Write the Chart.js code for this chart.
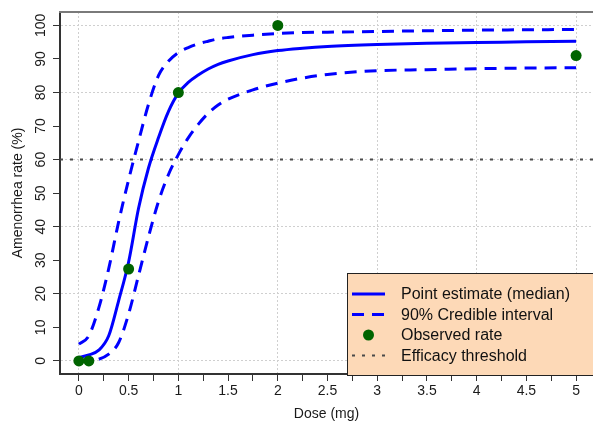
<!DOCTYPE html>
<html>
<head>
<meta charset="utf-8">
<script src="https://cdn.jsdelivr.net/npm/chart.js@4"></script>
<style>
  html, body { margin: 0; padding: 0; background: #ffffff; }
  #wrap { width: 593px; height: 423px; position: relative; }
</style>
</head>
<body>
<div id="wrap"><canvas id="c"></canvas></div>
<script>
// ---- data ----
const DOSE = [0, 0.1, 0.2, 0.3, 0.4, 0.5, 0.6, 0.7, 0.8, 0.9, 1.0, 1.1, 1.2, 1.3, 1.4, 1.5, 1.75, 2.0, 2.25, 2.5, 3.0, 3.5, 4.0, 4.5, 5.0];
const MEDIAN = [1.0, 1.8, 3.2, 7.5, 18.0, 29.5, 45.5, 57.5, 66.5, 74.3, 79.8, 83.0, 85.2, 87.0, 88.4, 89.4, 91.3, 92.5, 93.2, 93.7, 94.3, 94.7, 94.9, 95.1, 95.3];
const UPPER = [5.0, 7.5, 15.8, 27.5, 41.5, 54.0, 65.5, 76.5, 85.0, 89.3, 91.9, 93.4, 94.5, 95.3, 96.0, 96.4, 97.1, 97.6, 97.9, 98.0, 98.2, 98.4, 98.6, 98.7, 98.8];
const LOWER = [0.0, 0.1, 0.5, 2.0, 5.5, 14.0, 25.5, 37.0, 47.5, 55.5, 61.5, 66.5, 70.5, 73.8, 76.3, 78.0, 80.8, 82.8, 84.3, 85.4, 86.5, 86.8, 87.1, 87.3, 87.4];
const OBS_DOSE = [0, 0.1, 0.5, 1, 2, 5];
const OBS_RATE = [0, 0, 27.4, 80, 100, 91];
const THRESHOLD = 60;
const X_TICKS = [0, 0.25, 0.5, 0.75, 1, 1.25, 1.5, 1.75, 2, 2.25, 2.5, 2.75, 3, 3.25, 3.5, 3.75, 4, 4.25, 4.5, 4.75, 5];
const X_TICK_LABELS = ['0', '', '0.5', '', '1', '', '1.5', '', '2', '', '2.5', '', '3', '', '3.5', '', '4', '', '4.5', '', '5'];
const Y_TICKS = [0, 10, 20, 30, 40, 50, 60, 70, 80, 90, 100];
const Y_TICK_LABELS = ['0', '10', '20', '30', '40', '50', '60', '70', '80', '90', '100'];
const X_LIMITS = [-0.19, 5.17];
const Y_LIMITS = [-3.9, 104];
const LEGEND_LABELS = ['Point estimate (median)', '90% Credible interval', 'Observed rate', 'Efficacy threshold'];

// ---- styles ----
const FONT = "'Liberation Sans', Arial, sans-serif";
const BLUE = '#0000ff';
const GREEN = '#006400';
const THRESH_COLOR = '#4a4a4a';
const GRID_COLOR = '#cfcfcf';
const AXIS_COLOR = '#333333';
const LEGEND_BG = '#fdd9b7';

const pts = (xs, ys) => xs.map((x, i) => ({ x: x, y: ys[i] }));

const datasets = [
  { label: LEGEND_LABELS[2], data: pts(OBS_DOSE, OBS_RATE), showLine: false,
    pointRadius: 5.5, pointBackgroundColor: GREEN, pointBorderColor: GREEN, pointBorderWidth: 0, legendKind: 'point' },
  { label: LEGEND_LABELS[0], data: pts(DOSE, MEDIAN), showLine: true, borderColor: BLUE, borderWidth: 3,
    pointRadius: 0, cubicInterpolationMode: 'monotone', legendKind: 'line' },
  { label: LEGEND_LABELS[1], data: pts(DOSE, UPPER), showLine: true, borderColor: BLUE, borderWidth: 3,
    borderDash: [12, 8], pointRadius: 0, cubicInterpolationMode: 'monotone', legendKind: 'line' },
  { label: '_lower', data: pts(DOSE, LOWER), showLine: true, borderColor: BLUE, borderWidth: 3,
    borderDash: [12, 8], pointRadius: 0, cubicInterpolationMode: 'monotone' },
  { label: LEGEND_LABELS[3], data: pts(X_LIMITS, [THRESHOLD, THRESHOLD]), showLine: true,
    borderColor: THRESH_COLOR, borderWidth: 2, borderDash: [3, 7], pointRadius: 0, legendKind: 'line' }
];

const frameAndLegend = {
  id: 'frameAndLegend',
  afterDraw(chart) {
    const { ctx, chartArea: a } = chart;
    ctx.save();
    // top frame line
    ctx.strokeStyle = '#7a7a7a';
    ctx.lineWidth = 2;
    ctx.beginPath();
    ctx.moveTo(a.left - 1, a.top);
    ctx.lineTo(chart.width, a.top);
    ctx.stroke();

    // legend box
    const x0 = a.left + 287, y0 = a.top + 261;
    const x1 = chart.width + 5, y1 = a.bottom + 1;
    ctx.fillStyle = LEGEND_BG;
    ctx.fillRect(x0, y0, x1 - x0, y1 - y0);
    ctx.strokeStyle = '#222';
    ctx.lineWidth = 1;
    ctx.strokeRect(x0 + 0.5, y0 + 0.5, x1 - x0, y1 - y0);

    const sx0 = x0 + 5, sx1 = x0 + 38, tx = x0 + 54;
    ctx.font = '16px ' + FONT;
    ctx.textBaseline = 'middle';
    ctx.textAlign = 'left';
    LEGEND_LABELS.forEach((lab, i) => {
      const ds = chart.data.datasets.find(d => d.label === lab);
      const y = y0 + 21 + i * 20.5;
      if (ds.legendKind === 'point') {
        ctx.fillStyle = ds.pointBackgroundColor;
        ctx.beginPath();
        ctx.arc((sx0 + sx1) / 2, y, ds.pointRadius, 0, Math.PI * 2);
        ctx.fill();
      } else {
        ctx.strokeStyle = ds.borderColor;
        ctx.lineWidth = ds.borderWidth;
        ctx.setLineDash(ds.borderDash || []);
        ctx.beginPath();
        ctx.moveTo(sx0, y);
        ctx.lineTo(sx1, y);
        ctx.stroke();
        ctx.setLineDash([]);
      }
      ctx.fillStyle = '#111';
      ctx.fillText(lab, tx, y + 1);
    });
    ctx.restore();
  }
};

new Chart(document.getElementById('c'), {
  type: 'scatter',
  data: { datasets: datasets },
  options: {
    responsive: true,
    maintainAspectRatio: false,
    animation: false,
    events: [],
    layout: { autoPadding: false, padding: { top: 12, right: 0, left: 0, bottom: 0 } },
    plugins: { legend: { display: false }, tooltip: { enabled: false } },
    scales: {
      x: {
        type: 'linear', min: X_LIMITS[0], max: X_LIMITS[1], z: 1,
        afterBuildTicks: s => { s.ticks = X_TICKS.map(v => ({ value: v })); },
        afterFit: s => { s.height = 49; },
        ticks: {
          autoSkip: false, maxRotation: 0, minRotation: 0, padding: 2,
          color: '#1a1a1a', font: { family: FONT, size: 14 },
          callback: (v) => { const i = X_TICKS.indexOf(v); return i >= 0 ? X_TICK_LABELS[i] : ''; }
        },
        grid: {
          color: c => (c.tick && Number.isInteger(c.tick.value)) ? GRID_COLOR : 'rgba(0,0,0,0)',
          lineWidth: 1, tickColor: AXIS_COLOR, tickLength: 7, tickWidth: 1, tickBorderDash: []
        },
        border: { display: true, color: AXIS_COLOR, width: 2, dash: [2, 2] },
        title: { display: true, text: 'Dose (mg)', color: '#1a1a1a', font: { family: FONT, size: 14 }, padding: { top: 0, bottom: 0 } }
      },
      y: {
        min: Y_LIMITS[0], max: Y_LIMITS[1], z: 1,
        afterBuildTicks: s => { s.ticks = Y_TICKS.map(v => ({ value: v })); },
        afterFit: s => { s.width = 60; },
        ticks: {
          minRotation: 90, maxRotation: 90, crossAlign: 'center', padding: 0,
          color: '#1a1a1a', font: { family: FONT, size: 14 },
          callback: (v) => { const i = Y_TICKS.indexOf(v); return i >= 0 ? Y_TICK_LABELS[i] : ''; }
        },
        grid: {
          color: c => (c.tick && c.tick.value % 20 === 0) ? GRID_COLOR : 'rgba(0,0,0,0)',
          lineWidth: 1, tickColor: AXIS_COLOR, tickLength: 7, tickWidth: 1, tickBorderDash: []
        },
        border: { display: true, color: AXIS_COLOR, width: 2, dash: [2, 2] },
        title: { display: true, text: 'Amenorrhea rate (%)', color: '#1a1a1a', font: { family: FONT, size: 14 }, padding: { top: 10, bottom: 0 } }
      }
    }
  },
  plugins: [frameAndLegend]
});
</script>
</body>
</html>
